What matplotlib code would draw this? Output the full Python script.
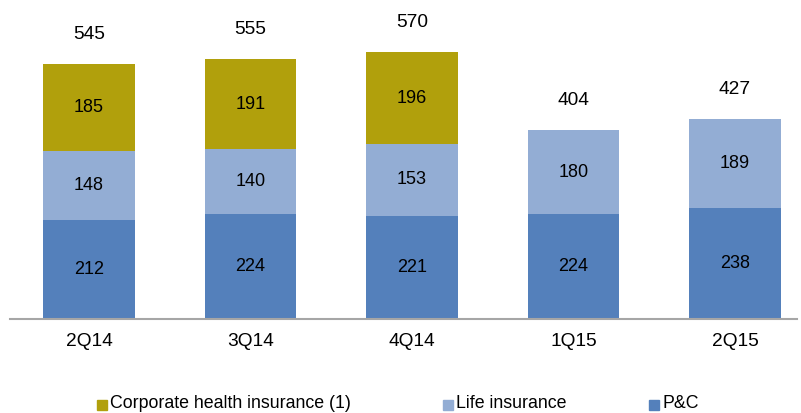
import numpy as np
import matplotlib.pyplot as plt
from matplotlib.patches import Rectangle

plt.rcParams['font.family'] = ['Liberation Sans', 'DejaVu Sans']

quarters = ['2Q14', '3Q14', '4Q14', '1Q15', '2Q15']
pc = [212, 224, 221, 224, 238]
life = [148, 140, 153, 180, 189]
corp = [185, 191, 196, 0, 0]
totals = [545, 555, 570, 404, 427]

c_corp = '#B1A00C'
c_life = '#93ADD4'
c_pc = '#5480BB'

fig = plt.figure(figsize=(8.01, 4.13), dpi=100)
ax = fig.add_axes([0.0125, 0.2276, 0.9825, 0.736])

x = np.arange(len(quarters))
w = 0.565
ax.bar(x, pc, w, color=c_pc)
ax.bar(x, life, w, bottom=pc, color=c_life)
ax.bar(x, corp, w, bottom=np.array(pc) + np.array(life), color=c_corp)

fs_in = 13
for i in range(len(x)):
    ax.text(x[i], pc[i] / 2, str(pc[i]), ha='center', va='center', fontsize=fs_in)
    ax.text(x[i], pc[i] + life[i] / 2, str(life[i]), ha='center', va='center', fontsize=fs_in)
    if corp[i] > 0:
        ax.text(x[i], pc[i] + life[i] + corp[i] / 2, str(corp[i]), ha='center', va='center', fontsize=fs_in)
    ax.annotate(str(totals[i]), (x[i], totals[i]), xytext=(0, 21.5), textcoords='offset points',
                ha='center', va='center', fontsize=13.8)

ax.set_xlim(-0.489, 4.384)
ax.set_ylim(0, 650)
ax.set_xticks(x)
ax.set_xticklabels(quarters, fontsize=13.8)
ax.tick_params(axis='x', length=0, pad=10)
ax.set_yticks([])
for s in ['top', 'right', 'left']:
    ax.spines[s].set_visible(False)
ax.spines['bottom'].set_color('#A6A6A6')
ax.spines['bottom'].set_linewidth(1.5)

# legend
items = [('Corporate health insurance (1)', c_corp, 97),
         ('Life insurance', c_life, 443),
         ('P&C', c_pc, 649)]
for label, col, px in items:
    fig.add_artist(Rectangle((px / 801, 1 - 410 / 413), 10 / 801, 10 / 413,
                             transform=fig.transFigure, color=col))
    fig.text((px + 13) / 801, 1 - 404 / 413, label, ha='left', va='center', fontsize=12.8)

fig.savefig('out.png', dpi=100)
